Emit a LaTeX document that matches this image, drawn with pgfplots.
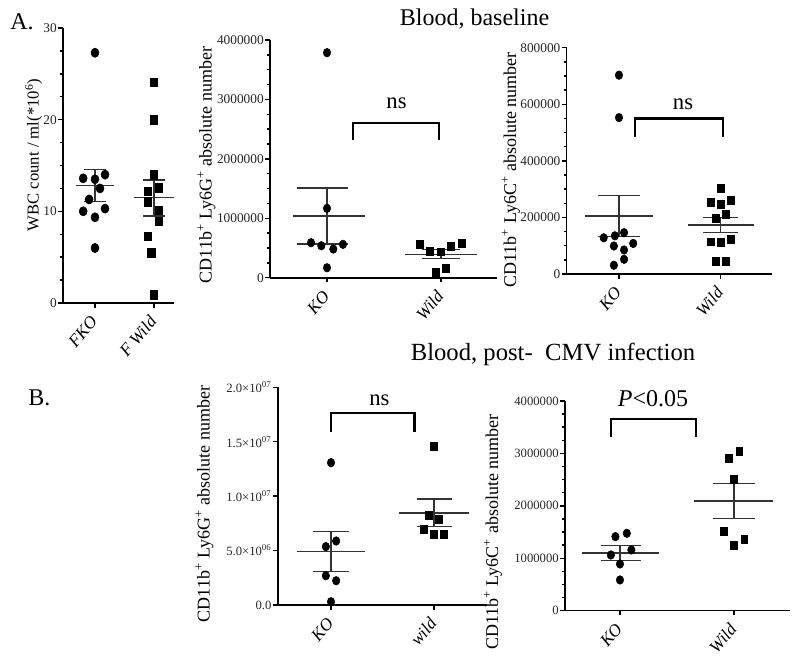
\documentclass[border=0pt]{standalone}
\usepackage{pgfplots}
\pgfplotsset{compat=1.18}
\usepackage{fontspec}
\setmainfont{Liberation Serif}

\tikzset{br/.style={black, line width=1.6pt}}
\pgfplotsset{
 gp/.style={
   scale only axis,
   anchor=south west,
   axis lines=left,
   axis line style={-, line width=1.2pt},
   tick align=outside,
   major tick length=3.5pt,
   minor tick length=2.2pt,
   every tick/.style={black, line width=1.1pt},
   xtick={0,1},
   ymin=0,
   clip=false,
   scaled y ticks=false,
   /pgf/number format/assume math mode=true,
   yticklabel style={font=\fontsize{10}{10}\selectfont, /pgf/number format/fixed, /pgf/number format/1000 sep={}, inner sep=1pt, text=black!85},
   xticklabel style={font=\itshape\fontsize{13}{13}\selectfont, rotate=50, anchor=east, inner sep=1pt},
   xticklabel shift=7pt,
 },
 ko/.style={only marks, mark=*, mark size=2.8pt, black, mark options={yscale=1.15}},
 wt/.style={only marks, mark=square*, mark size=2.6pt, black, mark options={yscale=1.15}},
 mn/.style={black!80, line width=1.1pt, no marks},
}

\begin{document}
\begin{tikzpicture}
\useasboundingbox (0,0) rectangle (594pt,496.5pt);

% ---------------- A1: WBC ----------------
\begin{axis}[gp, at={(47.25pt,269.25pt)}, width=83.25pt, height=206.25pt,
  xmin=-0.542, xmax=1.339, ymax=30, ytick={0,10,20,30}, minor y tick num=3,
  xticklabels={FKO, F Wild},
  yticklabel style={font=\fontsize{10}{10}\selectfont},
  every axis y label/.style={at={(axis description cs:-0.265,0.538)}, rotate=90, anchor=center, font=\fontsize{12.5}{13}\selectfont},
  ylabel={WBC count / ml(*10\textsuperscript{6})}]
\addplot[ko, mark size=3pt] coordinates {(0,27.3) (-0.2,13.6) (0,13.5) (0.17,14.0) (0.085,12.5) (-0.1,11.3) (-0.2,10.0) (0.17,10.3) (0,9.35) (0,6.0)};
\addplot[wt, mark size=2.8pt] coordinates {(1,24.1) (1,20.0) (1,14.0) (0.89,12.2) (1.085,12.6) (0.89,11.05) (1.085,10.1) (1.085,8.9) (0.89,7.3) (0.95,5.5) (1,0.9)};
\addplot[mn] coordinates {(-0.32,12.8) (0.32,12.8)};
\addplot[mn] coordinates {(-0.18,14.55) (0.18,14.55)};
\addplot[mn] coordinates {(-0.18,11.05) (0.18,11.05)};
\addplot[mn] coordinates {(0,11.05) (0,14.55)};
\addplot[mn] coordinates {(0.66,11.5) (1.34,11.5)};
\addplot[mn] coordinates {(0.82,13.4) (1.18,13.4)};
\addplot[mn] coordinates {(0.82,9.5) (1.18,9.5)};
\addplot[mn] coordinates {(1,9.5) (1,13.4)};
\end{axis}

% ---------------- A2 ----------------
\begin{axis}[gp, at={(202.5pt,288.2pt)}, width=170.25pt, height=178.3pt,
  xmin=-0.5, xmax=1.491, ymax=4000000, ytick={0,1000000,2000000,3000000,4000000}, minor y tick num=3,
  xticklabels={KO, Wild},
  every axis y label/.style={at={(axis description cs:-0.28,0.474)}, rotate=90, anchor=center, font=\fontsize{13.5}{14}\selectfont},
  ylabel={CD11b\textsuperscript{+} Ly6G\textsuperscript{+} absolute number}]
\addplot[ko] coordinates {(0,3786000) (0,1168000) (-0.14,589000) (-0.05,538000) (0.055,483000) (0.14,562000) (0,168000)};
\addplot[wt] coordinates {(0.81,562000) (0.904,449000) (1,437000) (1.085,522000) (1.18,579000) (0.95,100000) (1.044,158000)};
\addplot[mn] coordinates {(-0.3,1040000) (0.33,1040000)};
\addplot[mn] coordinates {(-0.26,1510000) (0.18,1510000)};
\addplot[mn] coordinates {(-0.26,570000) (0.18,570000)};
\addplot[mn] coordinates {(0,570000) (0,1510000)};
\addplot[mn] coordinates {(0.685,395000) (1.315,395000)};
\addplot[mn] coordinates {(0.83,476000) (1.17,476000)};
\addplot[mn] coordinates {(0.83,326000) (1.17,326000)};
\addplot[mn] coordinates {(1,326000) (1,476000)};
\draw[br] (axis cs:0.23,2317000) -- (axis cs:0.23,2608000) -- (axis cs:0.98,2608000) -- (axis cs:0.98,2317000);
\node[anchor=base, font=\fontsize{17}{17}\selectfont] at (axis cs:0.61,2850000) {ns};
\end{axis}

% ---------------- A3 ----------------
\begin{axis}[gp, at={(425pt,291pt)}, width=153.75pt, height=169.7pt,
  xmin=-0.514, xmax=1.501, ymax=800000, ytick={0,200000,400000,600000,800000}, minor y tick num=3,
  xticklabels={KO, Wild},
  every axis y label/.style={at={(axis description cs:-0.272,0.46)}, rotate=90, anchor=center, font=\fontsize{13.5}{14}\selectfont},
  ylabel={CD11b\textsuperscript{+} Ly6C\textsuperscript{+} absolute number}]
\addplot[ko] coordinates {(0,703000) (0,553000) (-0.15,128000) (-0.04,135000) (0.05,146000) (0.14,108000) (-0.05,99000) (0.05,85000) (0.05,52000) (-0.05,31000)};
\addplot[wt] coordinates {(1,303000) (0.9,253000) (1,246000) (1.1,259000) (1.05,211000) (0.95,197000) (0.9,114000) (1,112000) (1.1,123000) (0.95,46000) (1.05,46000)};
\addplot[mn] coordinates {(-0.33,205000) (0.33,205000)};
\addplot[mn] coordinates {(-0.21,277000) (0.21,277000)};
\addplot[mn] coordinates {(-0.21,133000) (0.21,133000)};
\addplot[mn] coordinates {(0,133000) (0,277000)};
\addplot[mn] coordinates {(0.675,173000) (1.325,173000)};
\addplot[mn] coordinates {(0.83,199500) (1.17,199500)};
\addplot[mn] coordinates {(0.83,146500) (1.17,146500)};
\addplot[mn] coordinates {(1,146500) (1,199500)};
\draw[br] (axis cs:0.16,485000) -- (axis cs:0.16,550000) -- (axis cs:1.02,550000) -- (axis cs:1.02,485000);
\node[anchor=base, font=\fontsize{17}{17}\selectfont] at (axis cs:0.63,580000) {ns};
\end{axis}

% ---------------- B1 ----------------
\begin{axis}[gp, at={(208.3pt,42.75pt)}, width=157pt, height=163.3pt,
  xmin=-0.517, xmax=1.515, ymax=20000000, ytick={0,5000000,10000000,15000000,20000000},
  yticklabels={0.0, 5.0×10\textsuperscript{06}, 1.0×10\textsuperscript{07}, 1.5×10\textsuperscript{07}, 2.0×10\textsuperscript{07}},
  yticklabel style={font=\fontsize{9.5}{9.5}\selectfont},
  xticklabels={KO, wild},
  every axis y label/.style={at={(axis description cs:-0.35,0.464)}, rotate=90, anchor=center, font=\fontsize{13.5}{14}\selectfont},
  ylabel={CD11b\textsuperscript{+} Ly6G\textsuperscript{+} absolute number}]
\addplot[ko] coordinates {(0,13070000) (-0.05,5360000) (0.05,5880000) (-0.05,2690000) (0.05,2230000) (0,300000)};
\addplot[wt] coordinates {(1,14610000) (0.945,8270000) (1.05,7870000) (0.896,6950000) (1,6520000) (1.097,6520000)};
\addplot[mn] coordinates {(-0.33,4920000) (0.33,4920000)};
\addplot[mn] coordinates {(-0.17,6750000) (0.17,6750000)};
\addplot[mn] coordinates {(-0.17,3090000) (0.17,3090000)};
\addplot[mn] coordinates {(0,3090000) (0,6750000)};
\addplot[mn] coordinates {(0.66,8460000) (1.34,8460000)};
\addplot[mn] coordinates {(0.83,9720000) (1.17,9720000)};
\addplot[mn] coordinates {(0.83,7200000) (1.17,7200000)};
\addplot[mn] coordinates {(1,7200000) (1,9720000)};
\draw[br] (axis cs:0,15920000) -- (axis cs:0,17610000) -- (axis cs:0.81,17610000) -- (axis cs:0.81,15920000);
\node[anchor=base, font=\fontsize{17}{17}\selectfont] at (axis cs:0.47,18310000) {ns};
\end{axis}

% ---------------- B2 ----------------
\begin{axis}[gp, at={(423.75pt,38.5pt)}, width=168.75pt, height=157.3pt,
  xmin=-0.482, xmax=1.491, ymax=4000000, ytick={0,1000000,2000000,3000000,4000000}, minor y tick num=3,
  xticklabels={KO, Wild},
  yticklabel style={font=\fontsize{9.5}{9.5}\selectfont},
  every axis y label/.style={at={(axis description cs:-0.32,0.375)}, rotate=90, anchor=center, font=\fontsize{13.5}{14}\selectfont},
  ylabel={CD11b\textsuperscript{+} Ly6C\textsuperscript{+} absolute number}]
\addplot[ko] coordinates {(-0.04,1412000) (0.06,1476000) (0.1,1158000) (-0.08,1062000) (0,891000) (0,586000)};
\addplot[wt] coordinates {(0.956,2907000) (1.046,3033000) (1,2512000) (0.912,1507000) (1,1253000) (1.09,1362000)};
\addplot[mn] coordinates {(-0.33,1097500) (0.34,1097500)};
\addplot[mn] coordinates {(-0.17,1238000) (0.18,1238000)};
\addplot[mn] coordinates {(-0.17,958000) (0.18,958000)};
\addplot[mn] coordinates {(0,958000) (0,1238000)};
\addplot[mn] coordinates {(0.65,2096000) (1.34,2096000)};
\addplot[mn] coordinates {(0.82,2430000) (1.18,2430000)};
\addplot[mn] coordinates {(0.82,1762000) (1.18,1762000)};
\addplot[mn] coordinates {(1,1762000) (1,2430000)};
\draw[br] (axis cs:-0.08,3319000) -- (axis cs:-0.08,3656000) -- (axis cs:0.67,3656000) -- (axis cs:0.67,3319000);
\node[anchor=base, font=\fontsize{18}{18}\selectfont] at (axis cs:0.29,3890000) {\textit{P}<0.05};
\end{axis}

% ---------------- titles ----------------
\node[anchor=base, font=\fontsize{18}{18}\selectfont] at (355.9pt,477pt) {Blood, baseline};
\node[anchor=base, font=\fontsize{18.5}{18.5}\selectfont] at (414.75pt,226.5pt) {Blood, post-~ CMV infection};
\node[anchor=base west, font=\fontsize{18}{18}\selectfont, inner sep=0pt] at (7.5pt,474pt) {A.};
\node[anchor=base west, font=\fontsize{18}{18}\selectfont, inner sep=0pt] at (21pt,192.75pt) {B.};
\end{tikzpicture}
\end{document}
